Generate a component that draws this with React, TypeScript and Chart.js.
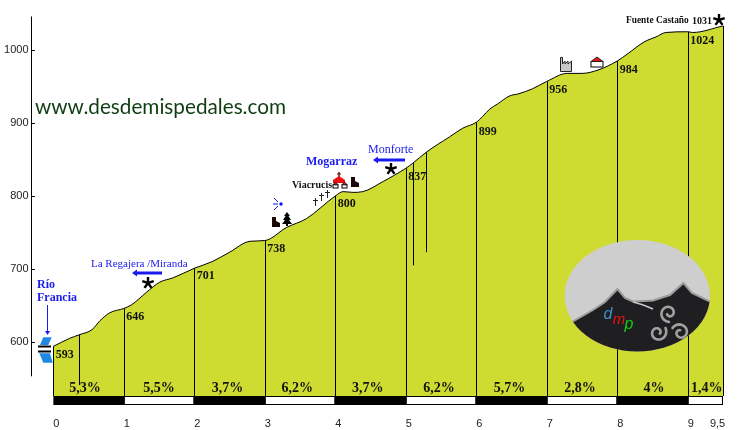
import { useEffect, useRef } from "react"
import { Chart, registerables } from "chart.js"

Chart.register(...registerables)

// altitude profile
const profileKm = [
  0, 0.23, 0.37, 0.55, 0.66, 0.8, 1, 1.11, 1.32, 1.51, 1.7, 2, 2.25, 2.5, 2.79, 3, 3.31, 3.59, 4, 4.11, 4.25, 4.39,
  4.68, 5, 5.1, 5.29, 5.62, 5.81, 6, 6.09, 6.19, 6.3, 6.47, 6.6, 6.8, 7, 7.29, 7.5, 7.74, 8, 8.15, 8.38, 8.55, 8.69,
  9, 9.07, 9.5,
]
const profileAltitude = [
  594, 605, 610, 617, 629, 640, 646, 651, 668, 682, 688, 701, 710, 723, 738, 739, 757, 769, 800, 806, 805, 806, 820,
  838, 845, 860, 881, 893, 901, 909, 919, 926, 937, 940, 947, 957, 968, 968, 973, 985, 995, 1011, 1018, 1024, 1025,
  1024, 1033,
]

const kmMarks = [0, 1, 2, 3, 4, 5, 6, 7, 8, 9, 9.5]
const kmTickSpots = [0, 1, 2, 3, 4, 5, 6, 7, 8, 9, 9.38]
const kmTickLabels = ["0", "1", "2", "3", "4", "5", "6", "7", "8", "9", "9,5"]
const yTicks = [600, 700, 800, 900, 1000]

const kmAltitudes = [593, 646, 701, 738, 800, 837, 899, 956, 984, 1024]
const gradients = ["5,3%", "5,5%", "3,7%", "6,2%", "3,7%", "6,2%", "5,7%", "2,8%", "4%", "1,4%"]
const gradientCentres = [0.45, 1.5, 2.47, 3.46, 4.46, 5.47, 6.47, 7.47, 8.52, 9.27]

// shorter poles that stop above the strip
const extraPoleKm = [0.37, 5.1, 5.29]
const extraPoleBottom = [541, 705, 723]

const whiteStrips = [1, 3, 5, 7, 9]

const BASE = 526
const STRIP = 520
const AXIS_KM = -0.31

const BLUE = "#1a1aee"
const BLACK = "#000000"
const SERIF = '"Liberation Serif"'

function altitudeAt(km: number) {
  return profileAltitude[profileKm.indexOf(km)]
}

function text(ctx: CanvasRenderingContext2D, s: string, x: number, y: number, font: string, color: string, align: CanvasTextAlign = "left", maxWidth?: number) {
  ctx.font = font
  ctx.fillStyle = color
  ctx.textAlign = align
  ctx.textBaseline = "middle"
  if (maxWidth) ctx.fillText(s, x, y, maxWidth)
  else ctx.fillText(s, x, y)
}

function poly(ctx: CanvasRenderingContext2D, pts: number[][], fill?: string, stroke?: string) {
  ctx.beginPath()
  pts.forEach((p, i) => (i ? ctx.lineTo(p[0], p[1]) : ctx.moveTo(p[0], p[1])))
  ctx.closePath()
  if (fill) {
    ctx.fillStyle = fill
    ctx.fill()
  }
  if (stroke) {
    ctx.strokeStyle = stroke
    ctx.lineWidth = 1
    ctx.stroke()
  }
}

function seg(ctx: CanvasRenderingContext2D, x1: number, y1: number, x2: number, y2: number, color: string, w = 1) {
  ctx.beginPath()
  ctx.moveTo(x1, y1)
  ctx.lineTo(x2, y2)
  ctx.strokeStyle = color
  ctx.lineWidth = w
  ctx.stroke()
}

function star(ctx: CanvasRenderingContext2D, x: number, y: number) {
  for (let i = 0; i < 5; i++) {
    const a = -Math.PI / 2 + (i * 2 * Math.PI) / 5
    seg(ctx, x, y, x + Math.cos(a) * 6, y + Math.sin(a) * 6, BLACK, 2.4)
  }
}

function arrowLeft(ctx: CanvasRenderingContext2D, x1: number, x2: number, y: number) {
  seg(ctx, x1 + 3, y, x2, y, BLUE, 3)
  poly(ctx, [[x1, y], [x1 + 5, y - 3.5], [x1 + 5, y + 3.5]], BLUE)
}

function house(ctx: CanvasRenderingContext2D, x: number, y: number, w: number, h: number) {
  ctx.fillStyle = "#ffffff"
  ctx.strokeStyle = BLACK
  ctx.lineWidth = 1
  ctx.fillRect(x, y + h * 0.45, w, h * 0.55)
  ctx.strokeRect(x, y + h * 0.45, w, h * 0.55)
  poly(ctx, [[x, y + h * 0.45], [x + w / 2, y], [x + w, y + h * 0.45]], "#ee1111", "#222222")
}

function bootIcon(ctx: CanvasRenderingContext2D, x: number, y: number) {
  poly(ctx, [[x, y + 10], [x, y], [x + 4, y], [x + 4, y + 4], [x + 8, y + 6], [x + 8, y + 10]], "#1a0808")
}

function tree(ctx: CanvasRenderingContext2D, x: number, y: number) {
  poly(ctx, [[x, y], [x - 3, y + 4], [x - 1.5, y + 4], [x - 4, y + 8], [x - 2, y + 8], [x - 5, y + 12], [x + 5, y + 12], [x + 2, y + 8], [x + 4, y + 8], [x + 1.5, y + 4], [x + 3, y + 4]], BLACK)
  seg(ctx, x, y + 12, x, y + 14, BLACK, 2)
}

function cross(ctx: CanvasRenderingContext2D, x: number, y: number) {
  seg(ctx, x + 0.5, y - 4, x + 0.5, y + 4, "#222222")
  seg(ctx, x - 2, y - 1.5, x + 3, y - 1.5, "#222222")
}

function drawLogo(ctx: CanvasRenderingContext2D) {
  const cx = 637.3
  const cy = 295.8
  const ridge = [
    [572, 322], [593, 310], [605, 302], [617.5, 289], [625, 298], [633, 301.5], [653, 300.5], [670, 295], [683.5, 283],
    [692, 293], [710, 301.5],
  ]
  ctx.save()
  ctx.beginPath()
  ctx.ellipse(cx, cy, 72.7, 55.8, 0, 0, 2 * Math.PI)
  ctx.fillStyle = "#cecece"
  ctx.fill()
  ctx.clip()
  poly(ctx, [...ridge, [720, 360], [560, 360]], "#1f1e21")
  ctx.beginPath()
  ridge.forEach((p, i) => (i ? ctx.lineTo(p[0], p[1]) : ctx.moveTo(p[0], p[1])))
  ctx.strokeStyle = "#9c9c9c"
  ctx.lineWidth = 2
  ctx.stroke()
  ctx.beginPath()
  ctx.moveTo(633, 302)
  ctx.quadraticCurveTo(642, 304, 653, 309)
  ctx.strokeStyle = "#c8c8c8"
  ctx.lineWidth = 1.5
  ctx.stroke()
  ctx.restore()

  // triskelion
  ctx.strokeStyle = "#a0a0a0"
  ctx.lineWidth = 2.6
  ctx.lineCap = "round"
  for (let arm = 0; arm < 3; arm++) {
    const b = -Math.PI / 2 + (arm * 2 * Math.PI) / 3
    const lx = 669 + Math.cos(b) * 13
    const ly = 326 + Math.sin(b) * 13
    ctx.beginPath()
    for (let t = 0; t <= 1; t += 0.04) {
      const a = b + Math.PI + t * 7.6
      const r = 9 - t * 7
      const px = lx + Math.cos(a) * r
      const py = ly + Math.sin(a) * r
      if (t === 0) ctx.moveTo(px, py)
      else ctx.lineTo(px, py)
    }
    ctx.stroke()
  }
  ctx.lineCap = "butt"

  text(ctx, "d", 608, 315, 'italic 16px "Liberation Sans"', "#3f8fd0", "center")
  text(ctx, "m", 619, 320, 'italic 15px "Liberation Sans"', "#ee1111", "center")
  text(ctx, "p", 629, 325, 'italic 16px "Liberation Sans"', "#11cc11", "center")
}

const annotations = {
  id: "annotations",
  afterDatasetsDraw(chart: Chart) {
    const ctx = chart.ctx
    const x = chart.scales.x
    const y = chart.scales.y
    ctx.save()

    // poles and the small ticks inside the axis, snapped to whole pixels
    const pole = (km: number, bottom: number) => {
      const px = Math.round(x.getPixelForValue(km)) + 0.5
      seg(ctx, px, y.getPixelForValue(altitudeAt(km)), px, y.getPixelForValue(bottom), BLACK)
    }
    kmMarks.forEach((km) => pole(km, BASE))
    extraPoleKm.forEach((km, i) => pole(km, extraPoleBottom[i]))
    yTicks.forEach((v) => {
      const py = Math.round(y.getPixelForValue(v)) + 0.5
      seg(ctx, x.getPixelForValue(AXIS_KM), py, x.getPixelForValue(AXIS_KM) + 3.5, py, BLACK)
    })

    kmAltitudes.forEach((alt, i) => {
      const km = kmMarks[i]
      text(ctx, String(alt), x.getPixelForValue(km) + 2.5, y.getPixelForValue(alt) + 8, `bold 12px ${SERIF}`, "#111111")
    })
    gradients.forEach((g, i) => {
      text(ctx, g, x.getPixelForValue(gradientCentres[i]), 388, `bold 14px ${SERIF}`, "#111111", "center")
    })

    text(ctx, "www.desdemispedales.com", 35, 107, '22px "Lato"', "#0f3d12", "left", 251)

    text(ctx, "Fuente Castaño", 626, 21, `bold 9.4px ${SERIF}`, "#111111")
    text(ctx, "1031", 692, 21, `bold 10px ${SERIF}`, "#111111")
    star(ctx, 719, 20)

    text(ctx, "Río", 37, 285, `bold 12px ${SERIF}`, BLUE)
    text(ctx, "Francia", 37, 298, `bold 12px ${SERIF}`, BLUE)
    seg(ctx, 47.5, 305, 47.5, 333, BLUE)
    poly(ctx, [[47.5, 335], [45, 331], [50, 331]], BLUE)
    poly(ctx, [[40, 345], [43.3, 337.3], [51.7, 337.3], [48.3, 345]], "#1e88e5")
    seg(ctx, 38, 346.5, 51, 346.5, BLACK, 2)
    seg(ctx, 38, 351.5, 51, 351.5, BLACK, 2)
    poly(ctx, [[39.3, 353.3], [50, 353.3], [52.7, 362.7], [43.3, 362.7]], "#1e88e5")

    text(ctx, "La Regajera /Miranda", 91, 264, `11px ${SERIF}`, BLUE)
    arrowLeft(ctx, 132, 162, 273)
    star(ctx, 148, 283)

    text(ctx, "Monforte", 368, 150, `12px ${SERIF}`, BLUE)
    arrowLeft(ctx, 373, 405, 160)
    star(ctx, 391, 169)

    text(ctx, "Mogarraz", 306, 162, `bold 12px ${SERIF}`, BLUE)
    text(ctx, "Viacrucis", 292, 185, `bold 10px ${SERIF}`, "#111111")

    // church
    seg(ctx, 339, 172, 339, 178, "#7a1010", 1.5)
    seg(ctx, 337, 174, 341, 174, "#7a1010", 1)
    poly(ctx, [[333, 180], [339, 176], [345, 180], [345, 183], [333, 183]], "#ee1111")
    house(ctx, 333, 182, 5, 6)
    house(ctx, 342, 182, 5, 6)
    bootIcon(ctx, 351, 177)

    cross(ctx, 315, 202)
    cross(ctx, 321, 197)
    cross(ctx, 327, 194)
    bootIcon(ctx, 272, 217)
    tree(ctx, 287, 212)

    // spring
    ctx.fillStyle = "#1111ee"
    ctx.beginPath()
    ctx.arc(281, 204, 1.7, 0, 2 * Math.PI)
    ctx.fill()
    seg(ctx, 278, 204, 273, 204, "#1111ee")
    seg(ctx, 278, 202, 274, 198, "#1111ee")
    seg(ctx, 278, 206, 274, 210, "#1111ee")

    // factory
    poly(ctx, [[560.5, 57.5], [562.5, 57.5], [562.5, 64], [565, 61], [565, 64], [568, 61], [568, 64], [571.5, 61], [571.5, 71.5], [560.5, 71.5]], "#c8c8c8", "#222222")
    house(ctx, 591, 57, 12, 10)

    drawLogo(ctx)
    ctx.restore()
  },
}

export default function App() {
  const canvasRef = useRef<HTMLCanvasElement>(null)

  useEffect(() => {
    if (!canvasRef.current) return

    const chart = new Chart(canvasRef.current, {
      type: "line",
      data: {
        datasets: [
          // strip along the bottom, black first and white pieces over it
          ...whiteStrips.map((km) => ({
            data: [
              { x: km + 0.015, y: STRIP },
              { x: Math.min(km + 1, 9.5) - 0.015, y: STRIP },
            ],
            borderColor: "#ffffff",
            borderWidth: 7,
            pointRadius: 0,
            fill: false,
            order: 1,
          })),
          {
            data: [
              { x: 0, y: STRIP },
              { x: 9.5, y: STRIP },
            ],
            borderColor: BLACK,
            borderWidth: 9,
            pointRadius: 0,
            fill: false,
            order: 2,
          },
          {
            data: profileKm.map((km, i) => ({ x: km, y: profileAltitude[i] })),
            borderColor: BLACK,
            borderWidth: 1,
            backgroundColor: "#cedc32",
            pointRadius: 0,
            cubicInterpolationMode: "monotone",
            fill: { value: BASE },
            order: 4,
          },
          // y axis line stops above the strip
          {
            data: [
              { x: AXIS_KM, y: 553 },
              { x: AXIS_KM, y: 1046 },
            ],
            borderColor: BLACK,
            borderWidth: 1,
            pointRadius: 0,
            fill: false,
            clip: false,
            order: 5,
          },
        ],
      },
      options: {
        responsive: false,
        animation: false,
        devicePixelRatio: 1,
        layout: { padding: { top: 16, right: 17, left: 0, bottom: 0 } },
        plugins: { legend: { display: false }, tooltip: { enabled: false } },
        scales: {
          x: {
            type: "linear",
            min: AXIS_KM,
            max: 9.5,
            border: { display: false },
            grid: { display: false, drawTicks: false },
            afterBuildTicks: (scale) => {
              scale.ticks = kmTickSpots.map((value) => ({ value }))
            },
            afterFit: (scale) => {
              scale.height = 25
            },
            ticks: {
              callback: (_v, i) => kmTickLabels[i],
              autoSkip: false,
              maxRotation: 0,
              labelOffset: 3,
              padding: 12,
              color: "#222222",
              font: { family: "Liberation Sans", size: 11 },
            },
          },
          y: {
            min: 513.7,
            max: 1046.6,
            border: { display: false },
            grid: { display: false, drawTicks: false },
            afterBuildTicks: (scale) => {
              scale.ticks = yTicks.map((value) => ({ value }))
            },
            afterFit: (scale) => {
              scale.width = 31.5
            },
            ticks: {
              callback: (v) => String(v),
              padding: 3,
              color: "#222222",
              font: { family: "Liberation Sans", size: 11 },
            },
          },
        },
      },
      plugins: [annotations],
    })

    return () => {
      chart.destroy()
    }
  }, [])

  return (
    <div style={{ position: "absolute", left: 0, top: 0, width: 740, height: 430, background: "#ffffff" }}>
      <canvas ref={canvasRef} width={740} height={430} style={{ display: "block" }} />
    </div>
  )
}
